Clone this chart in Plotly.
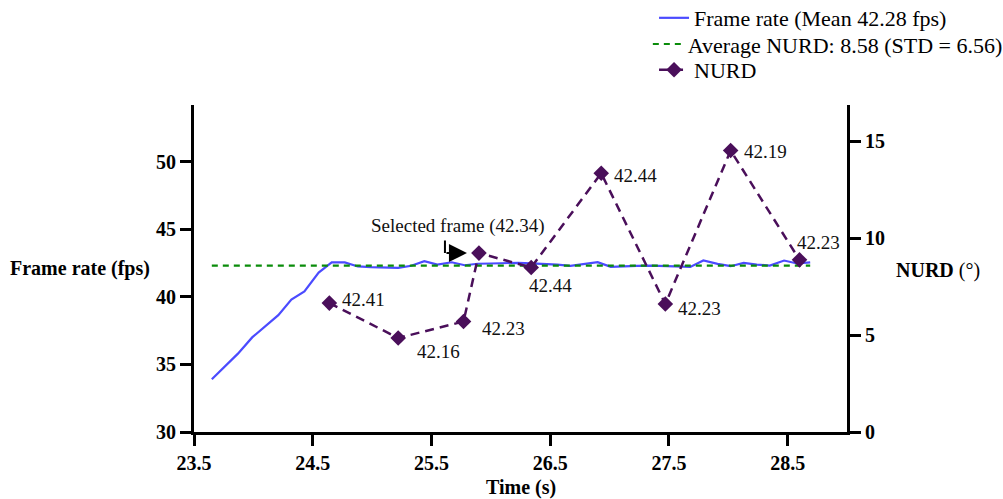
import plotly.graph_objects as go

# ---------------- data ----------------
frame_time = [23.65, 23.76, 23.87, 23.99, 24.10, 24.21, 24.32, 24.43, 24.55, 24.66,
              24.77, 24.88, 24.99, 25.11, 25.22, 25.33, 25.44, 25.55, 25.67, 25.78,
              25.89, 26.00, 26.11, 26.23, 26.34, 26.45, 26.56, 26.67, 26.79, 26.90,
              27.01, 27.12, 27.23, 27.35, 27.46, 27.57, 27.68, 27.79, 27.91, 28.02,
              28.13, 28.24, 28.35, 28.47, 28.58, 28.69]
frame_rate = [33.9, 34.85, 35.8, 37.0, 37.85, 38.65, 39.8, 40.4, 41.8, 42.55,
              42.55, 42.25, 42.2, 42.15, 42.15, 42.3, 42.64, 42.39, 42.56, 42.34,
              42.45, 42.47, 42.5, 42.52, 42.48, 42.45, 42.39, 42.3, 42.47, 42.57,
              42.22, 42.28, 42.3, 42.32, 42.3, 42.27, 42.22, 42.69, 42.44, 42.27,
              42.52, 42.39, 42.32, 42.69, 42.47, 42.56]

nurd_time = [24.64, 25.22, 25.77, 25.90, 26.34, 26.93, 27.47, 28.02, 28.60]
nurd_value = [6.65, 4.85, 5.70, 9.23, 8.49, 13.35, 6.60, 14.52, 8.88]
nurd_fps = [42.41, 42.16, 42.23, 42.34, 42.44, 42.44, 42.23, 42.19, 42.23]
selected_index = 3

frame_rate_mean = 42.28
nurd_mean = 8.58
nurd_std = 6.56

x_ticks = [23.5, 24.5, 25.5, 26.5, 27.5, 28.5]
fps_ticks = [30, 35, 40, 45, 50]
nurd_ticks = [0, 5, 10, 15]

# ---------------- style ----------------
FONT = "Liberation Serif"
BLUE = "#4B4BFF"
GREEN = "#0A8C0A"
PURPLE = "#4A0F5A"

# label offsets (pixels) relative to each NURD point: (xshift, yshift)
label_offsets = [(11, 4), (17, -14), (16, -7), (-21, 27), (-4, -18),
                 (11, -2), (11, -4), (11, -1), (-5, 17)]

fig = go.Figure()

fig.add_trace(go.Scatter(
    x=frame_time, y=frame_rate, mode="lines",
    name=f"Frame rate (Mean {frame_rate_mean:.2f} fps)",
    line=dict(color=BLUE, width=2.2), yaxis="y", legend="legend"))

fig.add_trace(go.Scatter(
    x=[frame_time[0], frame_time[-1]], y=[nurd_mean, nurd_mean], mode="lines",
    name=f"Average NURD: {nurd_mean:.2f} (STD = {nurd_std:.2f})",
    line=dict(color=GREEN, width=2.2, dash="6px,5px"), yaxis="y2", legend="legend2"))

fig.add_trace(go.Scatter(
    x=nurd_time, y=nurd_value, mode="lines+markers", name="NURD",
    line=dict(color=PURPLE, width=2.5, dash="9px,6px"),
    marker=dict(symbol="diamond", size=12, color=PURPLE), yaxis="y2", legend="legend3"))

annotations = []
for i, (t, v, f) in enumerate(zip(nurd_time, nurd_value, nurd_fps)):
    dx, dy = label_offsets[i]
    if i == selected_index:
        annotations.append(dict(
            x=t, y=v, xref="x", yref="y2", text=f"Selected frame ({f:.2f})",
            showarrow=False, xanchor="center", yanchor="middle",
            xshift=dx, yshift=dy, font=dict(family=FONT, size=19, color="#111")))
    else:
        annotations.append(dict(
            x=t, y=v, xref="x", yref="y2", text=f"{f:.2f}",
            showarrow=False, xanchor="left", yanchor="middle",
            xshift=dx, yshift=dy, font=dict(family=FONT, size=19, color="#111")))

# elbow arrow pointing to the selected frame
ts, vs = nurd_time[selected_index], nurd_value[selected_index]
annotations.append(dict(x=ts, y=vs, xref="x", yref="y2", text="", showarrow=True,
                        ax=0, ay=-14, xshift=-34, arrowhead=0, arrowwidth=2,
                        arrowcolor="black", standoff=0))
annotations.append(dict(x=ts, y=vs, xref="x", yref="y2", text="", showarrow=True,
                        ax=-22, ay=0, xshift=-12, arrowhead=2, arrowsize=1.8,
                        arrowwidth=2, arrowcolor="black", standoff=0))

# axis titles (horizontal)
annotations.append(dict(x=0, y=0.5, xref="paper", yref="paper", text="<b>Frame rate (fps)</b>",
                        showarrow=False, xanchor="right", yanchor="middle", xshift=-42,
                        font=dict(family=FONT, size=20, color="black")))
annotations.append(dict(x=1, y=0.495, xref="paper", yref="paper", text="<b>NURD</b> (°)",
                        showarrow=False, xanchor="left", yanchor="middle", xshift=47,
                        font=dict(family=FONT, size=20, color="black")))
annotations.append(dict(x=0.5, y=-0.17, xref="paper", yref="paper", text="<b>Time (s)</b>",
                        showarrow=False, xanchor="center", yanchor="middle",
                        font=dict(family=FONT, size=20, color="black")))

axis_common = dict(showline=True, linewidth=3, linecolor="black", ticks="outside",
                   ticklen=11, tickwidth=3, tickcolor="black", showgrid=False,
                   zeroline=False,
                   tickfont=dict(family=FONT, size=20, color="black", weight="bold"))

legend_common = dict(xanchor="left", yanchor="middle", bgcolor="rgba(0,0,0,0)",
                     font=dict(family=FONT, size=22, color="black"))

fig.update_layout(
    width=1003, height=499,
    margin=dict(l=194, r=156, t=105, b=67, autoexpand=False),
    plot_bgcolor="white", paper_bgcolor="white",
    font=dict(family=FONT, color="black"),
    xaxis=dict(range=[23.5, 29.0], tickvals=x_ticks, ticktext=[f"{v:.1f}" for v in x_ticks],
               **axis_common),
    yaxis=dict(range=[30, 54.2], tickvals=fps_ticks, **axis_common),
    yaxis2=dict(range=[0, 16.87], tickvals=nurd_ticks, overlaying="y", side="right",
                anchor="x", **axis_common),
    legend=dict(x=0.7045, y=1.266, **legend_common),
    legend2=dict(x=0.695, y=1.186, **legend_common),
    legend3=dict(x=0.7045, y=1.107, **legend_common),
    annotations=annotations,
    showlegend=True,
)

fig.write_html("out.html", config={"displayModeBar": False},
               post_script="document.body.style.margin='0';")
